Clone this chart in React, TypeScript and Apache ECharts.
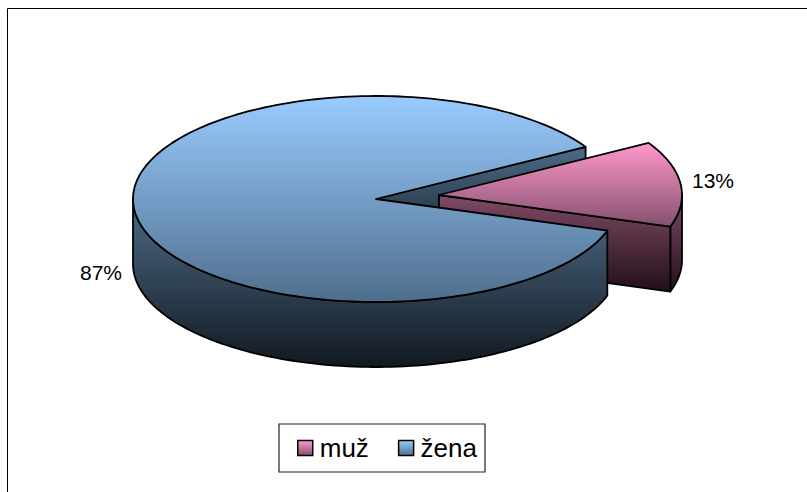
import React, { useEffect, useRef } from "react";
import * as echarts from "echarts";

const categories = ["muž", "žena"];
const shares = [13.4, 86.6];
const labels = ["13%", "87%"];

const FONT = '"Liberation Sans", Arial, sans-serif';
const CX = 376, CY = 199, RX = 243, RY = 103, DEPTH = 65;
const START = 30.4;
const OFFSET = [63, -4];

const TOP = [
  [{ offset: 0, color: "#ff99cc" }, { offset: 1, color: "#85506e" }],
  [{ offset: 0, color: "#99ccff" }, { offset: 1, color: "#4f6e8d" }],
];
const WALL = [
  [{ offset: 0, color: "#7f4b66" }, { offset: 1, color: "#221019" }],
  [{ offset: 0, color: "#4d6b88" }, { offset: 1, color: "#121920" }],
];
const grad = (stops: any[]) => new echarts.graphic.LinearGradient(0, 0, 0, 1, stops);
const STROKE = { stroke: "#000", lineWidth: 1.8, lineJoin: "round" };

function pt(cx: number, cy: number, deg: number, dy = 0) {
  const a = (deg * Math.PI) / 180;
  return [cx + RX * Math.cos(a), cy - RY * Math.sin(a) + dy];
}
function arc(cx: number, cy: number, from: number, to: number, dy = 0) {
  const n = Math.max(2, Math.ceil(Math.abs(to - from) / 1.5));
  const out: number[][] = [];
  for (let i = 0; i <= n; i++) out.push(pt(cx, cy, from + ((to - from) * i) / n, dy));
  return out;
}
function poly(points: number[][], fill: any, z2: number) {
  return { type: "polygon", z2, shape: { points }, style: { fill, ...STROKE } };
}

function renderSlice(idx: number) {
  const total = shares[0] + shares[1];
  const sweep = (shares[0] / total) * 360;
  if (idx === 0) {
    const cx = CX + OFFSET[0], cy = CY + OFFSET[1];
    const a0 = START, a1 = START - sweep;
    const wallTop = arc(cx, cy, Math.min(0, a0), a1);
    const wallBot = arc(cx, cy, a1, Math.min(0, a0), DEPTH);
    const pB = pt(cx, cy, a1);
    const pU = pt(CX, CY, START);
    return {
      type: "group",
      children: [
        // the far cut face of the large slice lies behind the exploded slice
        poly([[CX, CY], pU, [pU[0], pU[1] + DEPTH], [CX, CY + DEPTH]], grad(WALL[1]), 1),
        poly([...wallTop, ...wallBot], grad(WALL[0]), 2),
        poly([[cx, cy], pB, [pB[0], pB[1] + DEPTH], [cx, cy + DEPTH]], grad(WALL[0]), 3),
        poly([[cx, cy], ...arc(cx, cy, a0, a1)], grad(TOP[0]), 4),
      ],
    };
  }
  const a0 = START - sweep, a1 = START - 360;
  const wallFrom = a0, wallTo = -180;
  return {
    type: "group",
    children: [
      poly([...arc(CX, CY, wallFrom, wallTo), ...arc(CX, CY, wallTo, wallFrom, DEPTH)], grad(WALL[1]), 5),
      poly([[CX, CY], ...arc(CX, CY, a0, a1)], grad(TOP[1]), 6),
    ],
  };
}

export default function App() {
  const ref = useRef<HTMLDivElement>(null);
  useEffect(() => {
    document.body.style.margin = "0";
    const chart = echarts.init(ref.current!, null, { renderer: "svg" });
    chart.setOption({
      animation: false,
      backgroundColor: "#fff",
      legend: {
        left: 279,
        top: 424,
        data: categories.map((name, i) => ({
          name,
          icon: "rect",
          itemStyle: { color: grad([{ offset: 0, color: TOP[i][0].color }, { offset: 1, color: TOP[i][1].color }]), borderColor: "#000", borderWidth: 1.5 },
        })),
        padding: [11, 8, 11, 18],
        itemWidth: 15,
        itemHeight: 15,
        itemGap: 29,
        borderColor: "#222",
        borderWidth: 1.2,
        textStyle: { fontFamily: FONT, fontSize: 26, color: "#000", padding: [0, 0, 0, 2] },
      },
      graphic: [
        { type: "polyline", silent: true, shape: { points: [[7.5, 492], [7.5, 8.5], [807, 8.5]] }, style: { fill: "none", stroke: "#000", lineWidth: 1 } },
        { type: "text", x: 692, y: 180, style: { text: labels[0], font: `21px ${FONT}`, fill: "#000", textVerticalAlign: "middle" } },
        { type: "text", x: 80, y: 272, style: { text: labels[1], font: `21px ${FONT}`, fill: "#000", textVerticalAlign: "middle" } },
      ],
      series: categories.map((name, i) => ({
        type: "custom",
        name,
        coordinateSystem: "none",
        z: i === 0 ? 2 : 3,
        silent: true,
        data: [shares[i]],
        renderItem: () => renderSlice(i),
      })),
    });
    return () => chart.dispose();
  }, []);
  return <div ref={ref} style={{ position: "absolute", left: 0, top: 0, width: 807, height: 492 }} />;
}
